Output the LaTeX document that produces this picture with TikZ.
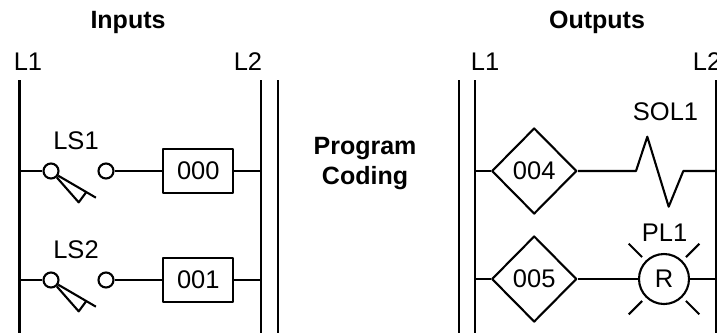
\documentclass[tikz,border=0pt]{standalone}
\usepackage{fontspec}
\setmainfont{Liberation Sans}
\usetikzlibrary{shapes.geometric}
\tikzset{
	contact/.style={circle,draw,inner sep=0pt,minimum size=15pt},
	addr/.style={draw,inner sep=0pt,minimum width=70pt,minimum height=44pt},
	outaddr/.style={diamond,draw,inner sep=0pt,minimum width=85pt,minimum height=86pt},
	lamp/.style={circle,draw,inner sep=0pt,minimum size=50pt},
	tag/.style={inner sep=0pt},
	title/.style={inner sep=0pt,font=\fontsize{25}{30}\selectfont\bfseries}
}
\begin{document}
\begin{tikzpicture}[x=1pt,y=-1pt,line width=2.1pt,line join=round,font=\fontsize{25.5}{30}\selectfont]
	\useasboundingbox (0,0) rectangle (717,333);
	\node[title] (tin) at (128,22) {Inputs};
	\node[title] (tout) at (597,22) {Outputs};
	\node[title,align=center] (prog) at (365,164) {Program\\Coding};
	\node[tag] (la) at (28,62) {L1};
	\node[tag] (lb) at (248,62) {L2};
	\node[tag] (lc) at (485,62) {L1};
	\node[tag] (ld) at (707,62) {L2};
	\foreach \x/\r in {19.5/a,261/b,278/c,459/d,475/e,716/f}{
		\coordinate (rail\r) at (\x,80);
		\coordinate (foot\r) at (\x,333);
		\draw (rail\r) -- (foot\r);
	}
	\foreach \y/\n/\a in {171/1/000,280/2/001}{
		\coordinate (in\n) at (19.5,\y);
		\coordinate (out\n) at (261,\y);
		\node[contact] (ls\n a) at (51,\y) {};
		\node[contact] (ls\n b) at (106,\y) {};
		\node[addr] (adr\n) at (198.3,\y) {\a};
		\node[tag] (lsl\n) at (76,\y-30) {LS\n};
		\draw (in\n) -- (ls\n a);
		\draw (ls\n b) -- (adr\n) -- (out\n);
		\draw (ls\n a.-33) -- ++(37.7,22) (ls\n a.-48) -- ++(22,25) -- ++(7.5,-10.2);
	}
	\foreach \y/\n/\a in {171/1/004,279/2/005}{
		\coordinate (pin\n) at (475,\y);
		\coordinate (pout\n) at (716,\y);
		\node[outaddr] (dia\n) at (534.2,\y) {\a};
		\draw (pin\n) -- (dia\n);
	}
	\coordinate (sola) at (636,171);
	\coordinate (solb) at (683.3,171);
	\node[tag] (sol) at (665.5,111.5) {SOL1};
	\draw (dia1) -- (sola) -- ++(11.3,-34.3) -- ++(21.4,70) -- (solb) -- (pout1);
	\node[lamp] (pl) at (664,279) {R};
	\node[tag] (pll) at (664.5,233) {PL1};
	\draw (dia2) -- (pl) -- (pout2);
	\foreach \t in {45,135,225,315}
		\draw (pl.center) ++(\t:31) -- ++(\t:19);
\end{tikzpicture}
\end{document}
